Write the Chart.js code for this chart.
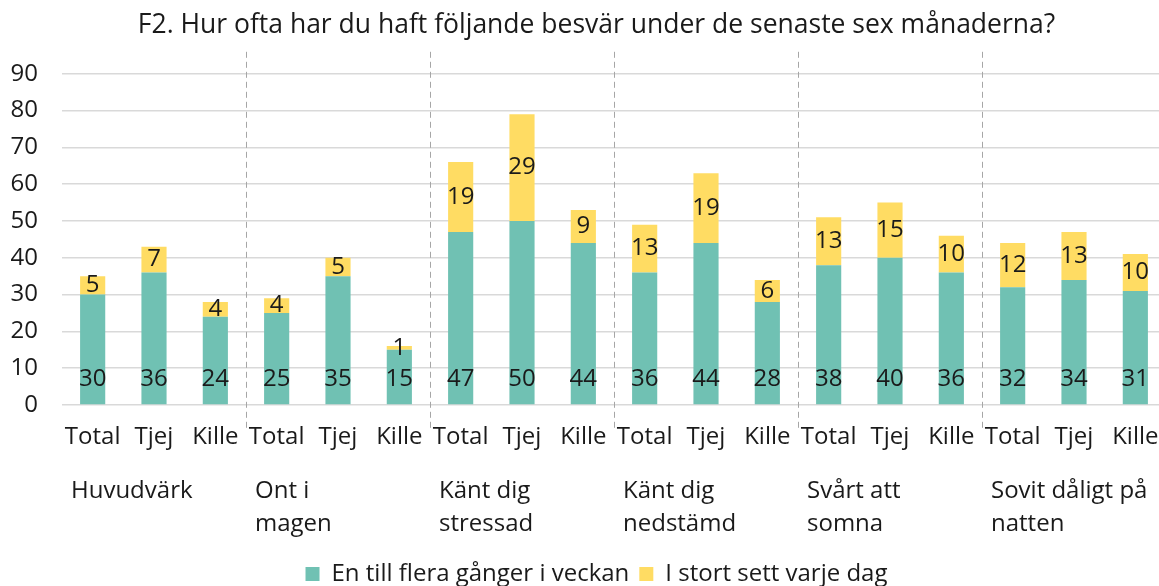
<!DOCTYPE html>
<html>
<head>
<meta charset="utf-8">
<script src="https://cdn.jsdelivr.net/npm/chart.js@4"></script>
<style>
  html, body { margin: 0; background: #fff; overflow: hidden; }
</style>
</head>
<body>
<canvas id="chart" width="1193" height="586"></canvas>
<script>
// data
const categories = ['Total','Tjej','Kille','Total','Tjej','Kille','Total','Tjej','Kille',
                    'Total','Tjej','Kille','Total','Tjej','Kille','Total','Tjej','Kille'];
const groups = [['Huvudvärk'], ['Ont i', 'magen'], ['Känt dig', 'stressad'],
                ['Känt dig', 'nedstämd'], ['Svårt att', 'somna'], ['Sovit dåligt på', 'natten']];
const weekly = [30,36,24, 25,35,15, 47,50,44, 36,44,28, 38,40,36, 32,34,31];
const daily  = [5,7,4, 4,5,1, 19,29,9, 13,19,6, 13,15,10, 12,13,10];
const seriesNames = ['En till flera gånger i veckan', 'I stort sett varje dag'];
const yTicks = [0,10,20,30,40,50,60,70,80,90];

const FONT = 'Open Sans';
const TXT = '#1a1a1a';
const FS = 24;

const extras = {
  id: 'extras',
  afterDatasetsDraw(chart) {
    const ctx = chart.ctx;
    const x = chart.scales.x, y = chart.scales.y;
    const area = chart.chartArea;
    ctx.save();
    ctx.font = FS + 'px "' + FONT + '"';
    ctx.fillStyle = TXT;
    ctx.textAlign = 'center';
    ctx.textBaseline = 'middle';
    // values
    weekly.forEach((v, i) => {
      ctx.fillText(String(v), x.getPixelForValue(i), y.getPixelForValue(0) - 26);
    });
    daily.forEach((v, i) => {
      const mid = y.getPixelForValue(weekly[i] + v / 2);
      ctx.fillText(String(v), x.getPixelForValue(i), mid);
    });
    // separators between groups
    ctx.strokeStyle = '#a6a6a6';
    ctx.lineWidth = 1;
    ctx.setLineDash([6, 4]);
    for (let g = 1; g < groups.length; g++) {
      const px = Math.round((x.getPixelForValue(g * 3 - 1) + x.getPixelForValue(g * 3)) / 2) + 0.5;
      ctx.beginPath();
      ctx.moveTo(px, area.top - 22);
      ctx.lineTo(px, area.bottom + 24);
      ctx.stroke();
    }
    ctx.setLineDash([]);
    // group labels
    ctx.textAlign = 'left';
    groups.forEach((lines, g) => {
      const left = g === 0 ? area.left : (x.getPixelForValue(g * 3 - 1) + x.getPixelForValue(g * 3)) / 2;
      lines.forEach((t, k) => {
        ctx.fillText(t, left + 9, area.bottom + 86 + k * 33);
      });
    });
    ctx.restore();
  }
};

new Chart(document.getElementById('chart'), {
  type: 'bar',
  data: {
    labels: categories,
    datasets: [{
      label: seriesNames[0],
      data: weekly,
      backgroundColor: '#70c1b3',
      barPercentage: 0.41,
      categoryPercentage: 1
    }, {
      label: seriesNames[1],
      data: daily,
      backgroundColor: '#ffdc63',
      barPercentage: 0.41,
      categoryPercentage: 1
    }]
  },
  options: {
    responsive: false,
    animation: false,
    layout: { padding: { left: 0, right: 0, top: 6, bottom: -10 } },
    scales: {
      x: {
        stacked: true,
        grid: { display: false },
        border: { display: false },
        ticks: { font: { family: FONT, size: FS }, color: TXT, padding: 10, maxRotation: 0, autoSkip: false },
        afterFit(s) { s.height = 147; s.paddingLeft = 0; s.paddingRight = 0; }
      },
      y: {
        stacked: true,
        min: 0,
        max: 90,
        afterBuildTicks(s) { s.ticks = yTicks.map(v => ({ value: v })); },
        grid: { color: '#d9d9d9', lineWidth: 1.5, drawTicks: false },
        border: { display: false },
        ticks: { font: { family: FONT, size: FS }, color: TXT, padding: 24 },
        afterFit(s) { s.width = 62; }
      },
      // empty right-hand spacer so the plot runs slightly past the window edge
      yRight: {
        position: 'right',
        grid: { display: false },
        border: { display: false },
        ticks: { display: false },
        afterFit(s) { s.width = 27; }
      }
    },
    plugins: {
      title: {
        display: true,
        text: 'F2. Hur ofta har du haft följande besvär under de senaste sex månaderna?',
        font: { family: FONT, size: 26.5, weight: 'normal' },
        color: TXT,
        padding: { top: 4, bottom: 32 }
      },
      legend: {
        position: 'bottom',
        labels: { font: { family: FONT, size: FS }, color: TXT, boxWidth: 14, boxHeight: 14, padding: 10 }
      },
      tooltip: { enabled: false }
    }
  },
  plugins: [extras]
});
</script>
</body>
</html>
